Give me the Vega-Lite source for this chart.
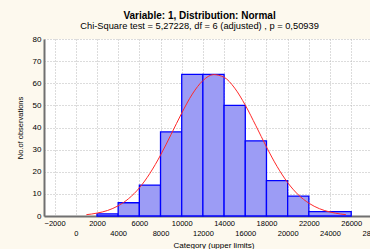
{
  "$schema": "https://vega.github.io/schema/vega-lite/v6.json",
  "autosize": "none",
  "padding": {"left": 44, "top": 39, "right": 0, "bottom": 34},
  "width": 339,
  "height": 177,
  "background": "#fdf9ee",
  "config": {
    "view": {"fill": "white", "stroke": null},
    "font": "Liberation Sans",
    "axis": {"labelOverlap": false}
  },
  "title": {
    "text": "Variable: 1, Distribution: Normal",
    "subtitle": "Chi-Square test = 5,27228, df = 6 (adjusted) , p = 0,50939",
    "anchor": "middle",
    "frame": "bounds",
    "offset": 4,
    "font": "Liberation Sans",
    "fontSize": 10,
    "fontWeight": "bold",
    "color": "#000000",
    "subtitleFont": "Liberation Sans",
    "subtitleFontSize": 9.3,
    "subtitleColor": "#000000",
    "subtitlePadding": 1
  },
  "datasets": {
    "bars": [
      {"lo": 2000, "hi": 4000, "n": 1},
      {"lo": 4000, "hi": 6000, "n": 6},
      {"lo": 6000, "hi": 8000, "n": 14},
      {"lo": 8000, "hi": 10000, "n": 38},
      {"lo": 10000, "hi": 12000, "n": 64},
      {"lo": 12000, "hi": 14000, "n": 64},
      {"lo": 14000, "hi": 16000, "n": 50},
      {"lo": 16000, "hi": 18000, "n": 34},
      {"lo": 18000, "hi": 20000, "n": 16},
      {"lo": 20000, "hi": 22000, "n": 9},
      {"lo": 22000, "hi": 26000, "n": 2}
    ],
    "curve": [
      {"lo": 1000, "n": 0.6},
      {"lo": 2000, "n": 1.3},
      {"lo": 3000, "n": 2.5},
      {"lo": 4000, "n": 4.6},
      {"lo": 5000, "n": 7.9},
      {"lo": 6000, "n": 12.7},
      {"lo": 7000, "n": 19.3},
      {"lo": 8000, "n": 27.5},
      {"lo": 9000, "n": 36.9},
      {"lo": 10000, "n": 46.5},
      {"lo": 11000, "n": 55.1},
      {"lo": 12000, "n": 61.2},
      {"lo": 13000, "n": 63.9},
      {"lo": 14000, "n": 62.7},
      {"lo": 15000, "n": 57.8},
      {"lo": 16000, "n": 50.1},
      {"lo": 17000, "n": 40.8},
      {"lo": 18000, "n": 31.2},
      {"lo": 19000, "n": 22.4},
      {"lo": 20000, "n": 15.1},
      {"lo": 21000, "n": 9.6},
      {"lo": 22000, "n": 5.8},
      {"lo": 23000, "n": 3.3},
      {"lo": 24000, "n": 1.8},
      {"lo": 25000, "n": 0.9},
      {"lo": 25500, "n": 0.6}
    ]
  },
  "encoding": {
    "x": {
      "field": "lo",
      "type": "quantitative",
      "scale": {"domain": [-3000, 29000], "nice": false, "zero": false},
      "axis": {
        "title": "Category (upper limits)",
        "titleFont": "Liberation Sans",
        "titleFontSize": 8,
        "titleFontWeight": "normal",
        "titleColor": "#000000",
        "titlePadding": 5,
        "values": [-2000, 0, 2000, 4000, 6000, 8000, 10000, 12000, 14000, 16000, 18000, 20000, 22000, 24000, 26000, 28000],
        "format": "d",
        "labelFont": "Liberation Sans",
        "labelFontSize": 7.5,
        "labelColor": "#000000",
        "labelOverlap": false,
        "labelFlush": false,
        "labelBaseline": "top",
        "labelPadding": {"condition": {"test": "datum.value % 4000 == 0", "value": 13}, "value": 3},
        "ticks": false,
        "domainColor": "#707070",
        "domainWidth": 2,
        "grid": true,
        "gridColor": "#b8b8b8",
        "gridDash": [1, 2],
        "gridWidth": 1
      }
    },
    "y": {
      "field": "n",
      "type": "quantitative",
      "scale": {"domain": [0, 80], "nice": false},
      "axis": {
        "title": "No.of observations",
        "titleFont": "Liberation Sans",
        "titleFontSize": 7.5,
        "titleFontWeight": "normal",
        "titleColor": "#000000",
        "titlePadding": 8,
        "values": [0, 10, 20, 30, 40, 50, 60, 70, 80],
        "labelFont": "Liberation Sans",
        "labelFontSize": 8,
        "labelColor": "#000000",
        "labelOverlap": false,
        "labelPadding": 3,
        "ticks": false,
        "domainColor": "#707070",
        "domainWidth": 2,
        "grid": true,
        "gridColor": "#b8b8b8",
        "gridDash": [1, 2],
        "gridWidth": 1
      }
    }
  },
  "layer": [
    {
      "data": {"name": "bars"},
      "mark": {"type": "rect", "fill": "#9c9cf5", "stroke": "#0000ff", "strokeWidth": 1.3},
      "encoding": {
        "x2": {"field": "hi"}
      }
    },
    {
      "data": {"name": "curve"},
      "mark": {"type": "line", "color": "#ff2a2a", "strokeWidth": 1, "interpolate": "monotone"},
      "encoding": {}
    }
  ]
}
